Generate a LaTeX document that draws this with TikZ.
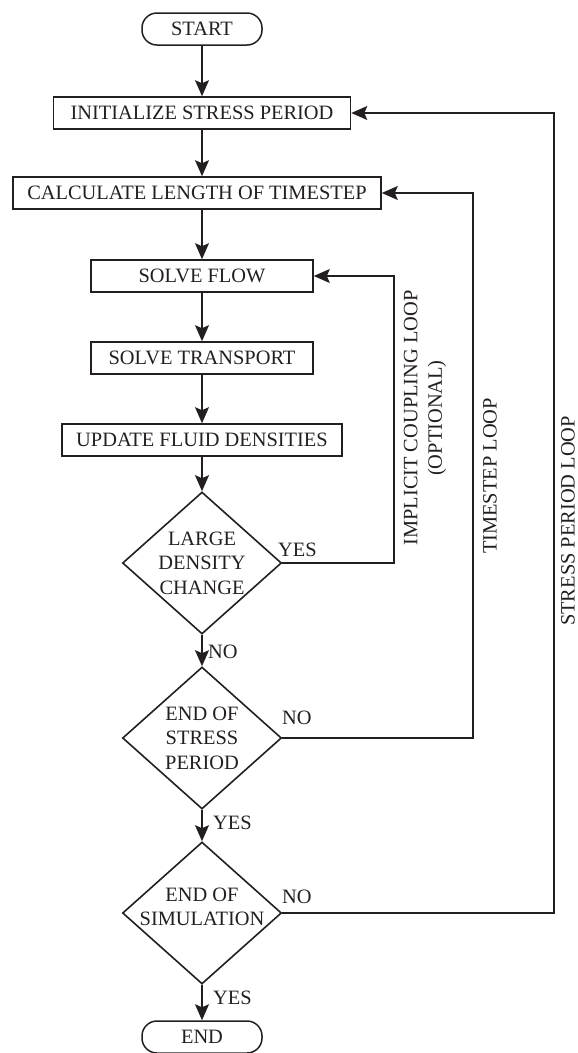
\documentclass[tikz,border=0pt]{standalone}
\usepackage{fontspec}
\setmainfont{Liberation Serif}
\usetikzlibrary{shapes.geometric,arrows.meta}
\definecolor{ink}{HTML}{231F20}
\begin{document}
\begin{tikzpicture}[x=1pt,y=-1pt,
  every node/.style={font=\fontsize{20.4}{24.5}\selectfont, text=ink},
  procbox/.style={draw=ink, line width=1.6pt, minimum height=32pt, inner sep=0pt},
  term/.style={draw=ink, line width=1.5pt, rounded corners=15pt, minimum width=120pt, minimum height=32pt, inner sep=0pt},
  dec/.style={diamond, draw=ink, line width=1.6pt, minimum width=159pt, minimum height=142pt, inner sep=0pt},
  flowarrow/.style={draw=ink, line width=1.3pt, -{Stealth[length=16pt,width=14pt,inset=3pt]}},
  looparrow/.style={draw=ink, line width=1.1pt, -{Stealth[length=16pt,width=14pt,inset=3pt]}},
  lbl/.style={anchor=west, inner sep=0pt}
]
\useasboundingbox (0,0) rectangle (578,1053);

% main column
\node[term] (start) at (202,29) {START};
\node[procbox, minimum width=297pt] (init) at (202,113) {INITIALIZE STRESS PERIOD};
\node[procbox, minimum width=368pt] (calc) at (197,193) {CALCULATE LENGTH OF TIMESTEP};
\node[procbox, minimum width=222pt] (sflow) at (202,276) {SOLVE FLOW};
\node[procbox, minimum width=222pt] (strans) at (202,358) {SOLVE TRANSPORT};
\node[procbox, minimum width=280pt] (upd) at (202,440) {UPDATE FLUID DENSITIES};
\node[dec] (d1) at (202,563) {};
\node[align=center] (d1t) at (d1) {LARGE\\DENSITY\\CHANGE};
\node[dec] (d2) at (202,738) {};
\node[align=center] (d2t) at (d2) {END OF\\STRESS\\PERIOD};
\node[dec] (d3) at (202,913) {};
\node[align=center] (d3t) at (202,907) {END OF\\SIMULATION};
\node[term] (stop) at (202,1037) {END};

% downward connectors
\draw[flowarrow] (start) -- (init);
\draw[flowarrow] (init) -- (init|-calc.north);
\draw[flowarrow] (init|-calc.south) -- (sflow);
\draw[flowarrow] (sflow) -- (strans);
\draw[flowarrow] (strans) -- (upd);
\draw[flowarrow] (upd) -- (d1);
\draw[flowarrow] (d1) -- (d2);
\draw[flowarrow] (d2) -- (d3);
\draw[flowarrow] (d3) -- (stop);

% loops
\coordinate (c1) at (394,563);
\coordinate (c2) at (473,738);
\coordinate (c3) at (554,913);
\draw[looparrow] (d1.east) -- (c1) |- (sflow.east);
\draw[looparrow] (d2.east) -- (c2) |- (calc.east);
\draw[looparrow] (d3.east) -- (c3) |- (init.east);

% branch labels
\node[lbl] (y1) at (278,550) {YES};
\node[lbl] (n1) at (208,652) {NO};
\node[lbl] (n2) at (282,718) {NO};
\node[lbl] (y2) at (213,823) {YES};
\node[lbl] (n3) at (282,897) {NO};
\node[lbl] (y3) at (213,998) {YES};

% loop labels
\node[rotate=90, align=center, inner sep=1pt] (l1) at (425,418) {IMPLICIT COUPLING LOOP\\(OPTIONAL)};
\node[rotate=90, inner sep=1pt] (l2) at (490,476) {TIMESTEP LOOP};
\node[rotate=90, inner sep=0.5pt] (l3) at (568,521) {STRESS PERIOD LOOP};
\end{tikzpicture}
\end{document}
